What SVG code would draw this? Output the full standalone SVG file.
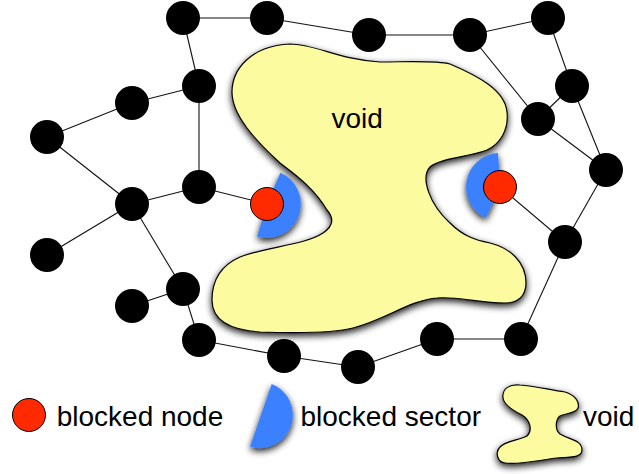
<svg xmlns="http://www.w3.org/2000/svg" width="639" height="474" viewBox="0 0 639 474">
<style>
.edge{stroke:#111;stroke-width:1.1;fill:none}
.node{fill:#000}
.blocked{fill:#ff2a00;stroke:#000;stroke-width:1}
.sector{fill:#3a80ff}
.void{fill:#fdfba0;stroke:#000;stroke-width:1.2}
.lbl{font-family:"Liberation Sans",Arial,sans-serif;font-size:28px;fill:#000}
</style>
<defs>
<filter id="sh" x="-30%" y="-30%" width="160%" height="160%">
<feGaussianBlur in="SourceAlpha" stdDeviation="3.5"/>
<feOffset dx="0" dy="3" result="b"/>
<feComponentTransfer><feFuncA type="linear" slope="0.9"/></feComponentTransfer>
<feMerge><feMergeNode/><feMergeNode in="SourceGraphic"/></feMerge>
</filter>
</defs>
<g id="void-main" filter="url(#sh)">
<path class="void" d="M232,92 C232,70 250,46 290,44 C315,44 340,60 380,62 C405,62 435,60 450,64 C478,76 505,90 507,112 C509,130 500,144 487,150 C470,157 440,158 430,167 C420,178 430,205 450,223 C463,236 475,240 490,243 C510,248 526,262 526,283 C526,296 518,303 505,303 C480,303 455,296 437,298 C410,300 385,320 353,328 C330,334 290,333 260,332 C230,330 212,320 212,300 C212,280 222,265 240,257 C265,247 305,245 323,233 C335,225 333,217 327,210 C315,190 300,178 280,163 C255,140 232,115 232,92 Z"/>
</g>
<text class="lbl" x="331.5" y="128">void</text>
<g id="sector1" filter="url(#sh)"><path class="sector" d="M267,204 L280.3,172.7 A34 34 0 0 1 257.1,236.5 Z"/></g>
<g id="sector2" filter="url(#sh)"><path class="sector" d="M500,187 L485.8,217.9 A34 34 0 0 1 498,153.1 Z"/></g>
<g id="connectors">
<line class="edge" x1="183" y1="18" x2="267" y2="18"/>
<line class="edge" x1="267" y1="18" x2="369" y2="35"/>
<line class="edge" x1="369" y1="35" x2="470" y2="35"/>
<line class="edge" x1="470" y1="35" x2="548" y2="18"/>
<line class="edge" x1="548" y1="18" x2="572" y2="86"/>
<line class="edge" x1="572" y1="86" x2="538" y2="119"/>
<line class="edge" x1="470" y1="35" x2="538" y2="119"/>
<line class="edge" x1="572" y1="86" x2="606" y2="170"/>
<line class="edge" x1="538" y1="119" x2="606" y2="170"/>
<line class="edge" x1="606" y1="170" x2="565" y2="242"/>
<line class="edge" x1="500" y1="187" x2="565" y2="242"/>
<line class="edge" x1="565" y1="242" x2="521" y2="339"/>
<line class="edge" x1="521" y1="339" x2="437" y2="339"/>
<line class="edge" x1="437" y1="339" x2="358" y2="367"/>
<line class="edge" x1="358" y1="367" x2="284" y2="356"/>
<line class="edge" x1="284" y1="356" x2="199" y2="340"/>
<line class="edge" x1="199" y1="340" x2="183" y2="289"/>
<line class="edge" x1="183" y1="289" x2="132" y2="306"/>
<line class="edge" x1="183" y1="289" x2="132" y2="204"/>
<line class="edge" x1="132" y1="204" x2="47" y2="255"/>
<line class="edge" x1="132" y1="204" x2="47" y2="137"/>
<line class="edge" x1="132" y1="204" x2="199" y2="187"/>
<line class="edge" x1="199" y1="187" x2="267" y2="204"/>
<line class="edge" x1="199" y1="187" x2="199" y2="86"/>
<line class="edge" x1="199" y1="86" x2="132" y2="103"/>
<line class="edge" x1="132" y1="103" x2="47" y2="137"/>
<line class="edge" x1="199" y1="86" x2="183" y2="18"/>
</g>
<g id="nodes">
<g id="n1"><circle class="node" cx="183" cy="18" r="17"/></g>
<g id="n2"><circle class="node" cx="267" cy="18" r="17"/></g>
<g id="n3"><circle class="node" cx="369" cy="35" r="17"/></g>
<g id="n4"><circle class="node" cx="470" cy="35" r="17"/></g>
<g id="n5"><circle class="node" cx="548" cy="18" r="17"/></g>
<g id="n6"><circle class="node" cx="572" cy="86" r="17"/></g>
<g id="n7"><circle class="node" cx="538" cy="119" r="17"/></g>
<g id="n8"><circle class="node" cx="606" cy="170" r="17"/></g>
<g id="n9"><circle class="node" cx="565" cy="242" r="17"/></g>
<g id="n10"><circle class="node" cx="521" cy="339" r="17"/></g>
<g id="n11"><circle class="node" cx="437" cy="339" r="17"/></g>
<g id="n12"><circle class="node" cx="358" cy="367" r="17"/></g>
<g id="n13"><circle class="node" cx="284" cy="356" r="17"/></g>
<g id="n14"><circle class="node" cx="199" cy="340" r="17"/></g>
<g id="n15"><circle class="node" cx="183" cy="289" r="17"/></g>
<g id="n16"><circle class="node" cx="132" cy="306" r="17"/></g>
<g id="n17"><circle class="node" cx="47" cy="255" r="17"/></g>
<g id="n18"><circle class="node" cx="132" cy="204" r="17"/></g>
<g id="n19"><circle class="node" cx="47" cy="137" r="17"/></g>
<g id="n20"><circle class="node" cx="199" cy="187" r="17"/></g>
<g id="n21"><circle class="node" cx="199" cy="86" r="17"/></g>
<g id="n22"><circle class="node" cx="132" cy="103" r="17"/></g>
<g id="blocked1"><circle class="blocked" cx="267" cy="204" r="16.5"/></g>
<g id="blocked2"><circle class="blocked" cx="500" cy="187" r="16.5"/></g>
</g>
<g id="legend">
<g id="legend-node"><circle class="blocked" cx="29" cy="415" r="16.5"/><text class="lbl" x="56.7" y="425.5">blocked node</text></g>
<g id="legend-sector"><path class="sector" filter="url(#sh)" d="M271.7,384 A33.2 33.2 0 0 1 250,446.7 Z"/><text class="lbl" x="300.5" y="425.5">blocked sector</text></g>
<g id="legend-void"><path class="void" filter="url(#sh)" d="M503,398 C502,388 510,384 520,385 C535,386 550,390 565,392 C575,395 580,402 578,408 C576,414 565,413 560,416 C555,420 555,430 560,434 C570,440 582,440 582,450 C582,458 570,457 557,458 C540,460 520,465 505,463 C497,462 495,452 500,447 C505,441 520,440 527,436 C533,430 530,420 522,415 C512,410 504,405 503,398 Z"/><text class="lbl" x="583" y="425.5">void</text></g>
</g>
</svg>
